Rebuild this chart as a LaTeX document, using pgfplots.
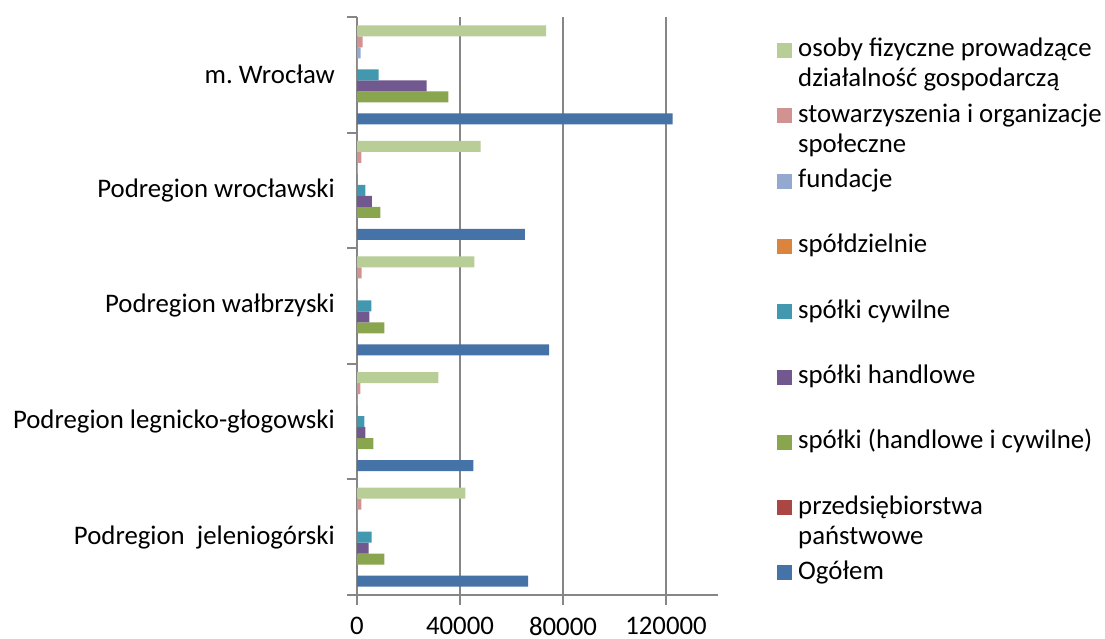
\documentclass[border=0pt]{standalone}
\usepackage{pgfplots}
\pgfplotsset{compat=1.18}
\usepackage{fontspec}
\setmainfont{Carlito}
\definecolor{cOg}{RGB}{69,114,167}
\definecolor{cPp}{RGB}{170,70,67}
\definecolor{cHc}{RGB}{137,165,78}
\definecolor{cHa}{RGB}{113,88,143}
\definecolor{cCy}{RGB}{65,152,175}
\definecolor{cSp}{RGB}{219,132,61}
\definecolor{cFu}{RGB}{147,169,207}
\definecolor{cSt}{RGB}{209,147,146}
\definecolor{cOs}{RGB}{185,205,150}
\definecolor{axgray}{RGB}{134,134,134}
\newcommand{\onel}[1]{\raisebox{0pt}[17pt][0pt]{#1}}
\newcommand{\twol}[2]{\raisebox{0pt}[17pt][0pt]{\begin{tabular}[t]{@{}l@{}}#1\\#2\end{tabular}}}
\pgfplotsset{sqleg/.style={draw=none, legend image code/.code={\fill[##1,draw=none] (0pt,-7.5pt) rectangle (15pt,7.5pt);}}}
\begin{document}
\fontsize{26.8}{30}\selectfont
\begin{tikzpicture}
\begin{axis}[
  at={(357pt,44pt)}, anchor=south west,
  scale only axis, width=360.5pt, height=578pt,
  xbar=0pt, bar width=11pt,
  xmin=0, xmax=140000, ymin=-0.5, ymax=4.5,
  axis lines*=left,
  axis line style={draw=axgray, line width=2.5pt},
  xtick={0,40000,80000,120000},
  xticklabels={0,40000,80000,120000},
  scaled x ticks=false,
  ytick={0,1,2,3,4},
  yticklabels={Podregion~~jeleniogórski, Podregion legnicko-głogowski, Podregion wałbrzyski, Podregion wrocławski, m.\ Wrocław},
  minor ytick={-0.5,0.5,1.5,2.5,3.5,4.5},
  tick align=outside,
  major tick length=10pt, minor tick length=10pt,
  tick style={draw=axgray, line width=2pt},
  major y tick style={draw=none},
  xmajorgrids,
  major grid style={draw=axgray, line width=2pt},
  yticklabel style={inner sep=0pt, anchor=east, xshift=-12pt},
  xticklabel style={inner sep=0pt, anchor=north, yshift=-12pt},
  reverse legend,
  legend style={draw=none, fill=none, at={(1.165,0.9607)}, anchor=north west,
    inner sep=0pt, row sep=44.3pt, column sep=6pt,
    nodes={inner sep=0pt}, cells={anchor=west}},
]
\addplot[sqleg, fill=cOg] coordinates {(66500,0) (45200,1) (74600,2) (65200,3) (122600,4)};
\addlegendentry{\onel{Ogółem}}
\addplot[sqleg, fill=cPp] coordinates {(30,0) (30,1) (30,2) (30,3) (60,4)};
\addlegendentry{\twol{przedsiębiorstwa}{państwowe}}
\addplot[sqleg, fill=cHc] coordinates {(10600,0) (6400,1) (10600,2) (9100,3) (35500,4)};
\addlegendentry{\onel{spółki (handlowe i cywilne)}}
\addplot[sqleg, fill=cHa] coordinates {(4500,0) (3300,1) (4800,2) (5800,3) (27000,4)};
\addlegendentry{\onel{spółki handlowe}}
\addplot[sqleg, fill=cCy] coordinates {(5700,0) (2900,1) (5600,2) (3300,3) (8400,4)};
\addlegendentry{\onel{spółki cywilne}}
\addplot[sqleg, fill=cSp] coordinates {(150,0) (130,1) (150,2) (160,3) (300,4)};
\addlegendentry{\onel{spółdzielnie}}
\addplot[sqleg, fill=cFu] coordinates {(250,0) (200,1) (250,2) (300,3) (1400,4)};
\addlegendentry{\onel{fundacje}}
\addplot[sqleg, fill=cSt] coordinates {(1700,0) (1300,1) (1800,2) (1700,3) (2200,4)};
\addlegendentry{\twol{stowarzyszenia i organizacje}{społeczne}}
\addplot[sqleg, fill=cOs] coordinates {(42100,0) (31600,1) (45600,2) (48000,3) (73400,4)};
\addlegendentry{\twol{osoby fizyczne prowadzące}{działalność gospodarczą}}
\end{axis}
\pgfresetboundingbox
\path (0pt,0pt) rectangle (1105pt,639pt);
\end{tikzpicture}
\end{document}
